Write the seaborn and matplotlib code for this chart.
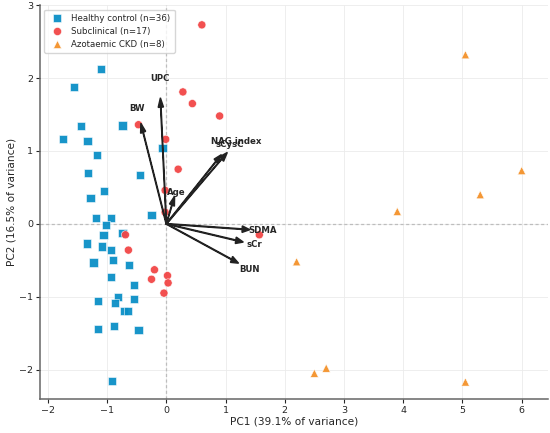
import numpy as np
import pandas as pd
import matplotlib
matplotlib.use("Agg")
import matplotlib.pyplot as plt
import seaborn as sns

# PCA scores
healthy_pc1 = [-1.11, -1.56, -1.44, -0.74, -1.75, -1.33, -0.065, -1.17, -1.32, -0.45,
               -1.05, -1.28, -0.25, -1.19, -0.93, -1.02, -1.06, -0.74, -1.34, -1.09,
               -0.94, -1.23, -0.90, -0.63, -0.93, -0.55, -1.15, -0.81, -0.86, -0.55,
               -0.72, -0.65, -1.15, -0.88, -0.47, -0.92]
healthy_pc2 = [2.13, 1.88, 1.34, 1.35, 1.16, 1.14, 1.04, 0.95, 0.70, 0.67,
               0.45, 0.35, 0.12, 0.08, 0.08, -0.01, -0.15, -0.12, -0.27, -0.31,
               -0.36, -0.53, -0.49, -0.56, -0.73, -0.84, -1.06, -1.00, -1.09, -1.03,
               -1.20, -1.20, -1.44, -1.40, -1.46, -2.15]
subclin_pc1 = [0.60, 0.28, 0.44, 0.90, -0.47, -0.01, 0.20, -0.02, -0.02, 1.57,
               -0.69, -0.64, -0.20, 0.02, -0.25, 0.03, -0.04]
subclin_pc2 = [2.73, 1.81, 1.65, 1.48, 1.36, 1.16, 0.75, 0.46, 0.16, -0.15,
               -0.15, -0.36, -0.63, -0.71, -0.76, -0.81, -0.95]
ckd_pc1 = [5.05, 6.0, 5.3, 3.9, 2.2, 2.7, 2.5, 5.05]
ckd_pc2 = [2.32, 0.73, 0.40, 0.17, -0.52, -1.98, -2.05, -2.17]

# loading arrows (scaled)
var_names = ["UPC", "BW", "NAG index", "sCysC", "Age", "SDMA", "sCr", "BUN"]
load_pc1 = [-0.10, -0.43, 1.03, 0.93, 0.14, 1.41, 1.30, 1.22]
load_pc2 = [1.73, 1.38, 0.98, 0.95, 0.38, -0.08, -0.25, -0.54]

groups = ["Healthy control (n=36)", "Subclinical (n=17)", "Azotaemic CKD (n=8)"]
colors = ["#0b8fc6", "#f24646", "#f4922a"]
markers = ["s", "o", "^"]

df = pd.DataFrame({
    "PC1": healthy_pc1 + subclin_pc1 + ckd_pc1,
    "PC2": healthy_pc2 + subclin_pc2 + ckd_pc2,
    "Group": [groups[0]] * len(healthy_pc1) + [groups[1]] * len(subclin_pc1) + [groups[2]] * len(ckd_pc1),
})

sns.set_style("ticks")
fig, ax = plt.subplots(figsize=(5.5, 4.33), dpi=100)
fig.subplots_adjust(left=0.073, right=0.997, top=0.988, bottom=0.079)

ax.grid(True, color="#ebebeb", linewidth=0.6)
ax.set_axisbelow(True)
ax.axhline(0, color="#bdbdbd", linestyle=(0, (2.5, 2)), linewidth=0.9, zorder=1)
ax.axvline(0, color="#bdbdbd", linestyle=(0, (2.5, 2)), linewidth=0.9, zorder=1)

sns.scatterplot(data=df, x="PC1", y="PC2", hue="Group", style="Group",
                hue_order=groups, style_order=groups,
                palette=dict(zip(groups, colors)), markers=dict(zip(groups, markers)),
                s=34, alpha=0.95, edgecolor="white", linewidth=0.4, ax=ax, zorder=3)

# loading vectors
for name, lx, ly in zip(var_names, load_pc1, load_pc2):
    ax.arrow(0, 0, lx, ly, color="#222222", width=0.01, head_width=0.09,
             head_length=0.13, length_includes_head=True, zorder=4)
    ax.text(lx * 1.15, ly * 1.15, name, fontsize=6.2, fontweight="bold",
            ha="center", va="center", zorder=5)

ax.set_xlim(-2.13, 6.45)
ax.set_ylim(-2.4, 3.0)
ax.set_xlabel("PC1 (39.1% of variance)", fontsize=7.6, labelpad=1.5)
ax.set_ylabel("PC2 (16.5% of variance)", fontsize=7.6, labelpad=2)
ax.tick_params(labelsize=6.8, length=3, pad=2)
sns.despine(ax=ax)
for sp in ["left", "bottom"]:
    ax.spines[sp].set_color("#666666")
    ax.spines[sp].set_linewidth(1.1)

leg = ax.legend(loc="upper left", fontsize=6.2, frameon=True, borderpad=0.5,
                handletextpad=0.6, labelspacing=0.45)
leg.get_frame().set_edgecolor("#cccccc")

plt.savefig("out.png", dpi=100)
